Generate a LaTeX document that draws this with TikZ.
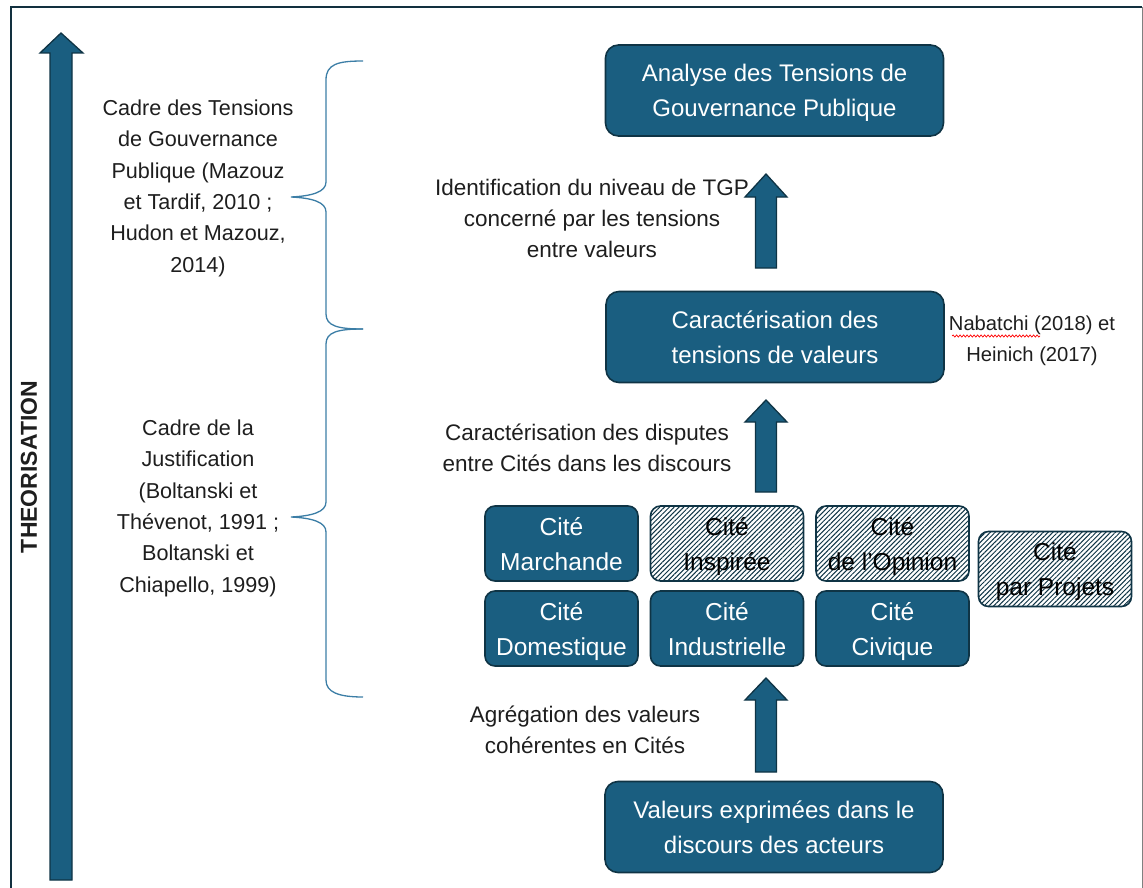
\documentclass[tikz,border=0pt]{standalone}
\usepackage{fontspec}
\setmainfont{Liberation Sans}
\usetikzlibrary{patterns.meta,decorations.pathmorphing}
\definecolor{boxfill}{HTML}{1A5E80}
\definecolor{boxline}{HTML}{0F3445}
\definecolor{bracecol}{HTML}{3C7EA6}
\definecolor{txt}{HTML}{1E1E1E}
\definecolor{frameline}{HTML}{12303F}
\tikzset{
  mainbox/.style={draw=boxline, fill=boxfill, line width=1.6pt, rounded corners=13pt,
    minimum width=338pt, minimum height=91pt, text=white, align=center,
    font=\fontsize{24}{34.5}\selectfont, inner sep=0pt, text depth=0pt},
  citebox/.style={draw=boxline, fill=boxfill, line width=1.6pt, rounded corners=10pt,
    minimum width=153pt, minimum height=75pt, text=white, align=center,
    font=\fontsize{24.5}{35}\selectfont, inner sep=0pt, text depth=0pt},
  citehatch/.style={citebox, pattern={Lines[angle=45,distance=3.4pt,line width=1pt]},
    pattern color=boxline, text=black},
  sidetext/.style={text=txt, align=center, font=\fontsize{21.6}{31.3}\selectfont, inner sep=0pt, text depth=0pt},
  midtext/.style={sidetext, font=\fontsize{22.5}{31.3}\selectfont},
  blockarrow/.style={draw=boxline, fill=boxfill, line width=1.3pt, line join=miter},
  bracestyle/.style={draw=bracecol, line width=1.3pt},
}
\newcommand\myuparrow[4]{%
  \draw[blockarrow] (#1-10.5,#4) -- (#1-10.5,#3) -- (#1-21,#3) -- (#1,#2)
    -- (#1+21,#3) -- (#1+10.5,#3) -- (#1+10.5,#4) -- cycle;}
\begin{document}
\begin{tikzpicture}[x=1pt,y=-1pt]
\useasboundingbox (0,0) rectangle (1143,888);
% frame
\draw[frameline, line width=2.6pt] (11,895) -- (11,7) -- (1142,7);
\draw[gray, line width=1pt] (1142,7) -- (1142,895);

% big theorisation arrow
\draw[blockarrow] (50,880) -- (50,53) -- (40,53) -- (61,33) -- (83,53) -- (72,53) -- (72,880) -- cycle;
\node[rotate=90, text=txt, font=\fontsize{23}{26}\selectfont\bfseries] (theo) at (29,467) {THEORISATION};

% main boxes
\node[mainbox] (analyse) at (774.5,90.5) {Analyse des Tensions de\\Gouvernance Publique};
\node[mainbox] (caract) at (775,337) {Caractérisation des\\tensions de valeurs};
\node[mainbox] (valeurs) at (774,827) {Valeurs exprimées dans le\\discours des acteurs};

% cites
\node[citebox] (marchande) at (561.5,543.5) {Cité\\Marchande};
\node[citehatch] (inspiree) at (727,543.5) {Cité\\Inspirée};
\node[citehatch] (opinion) at (892.5,543.5) {Cité\\de l’Opinion};
\node[citehatch] (projets) at (1055,569) {Cité\\par Projets};
\node[citebox] (domestique) at (561.5,628.5) {Cité\\Domestique};
\node[citebox] (industrielle) at (727,628.5) {Cité\\Industrielle};
\node[citebox] (civique) at (892.5,628.5) {Cité\\Civique};

% block arrows
\myuparrow{766}{174}{197}{268}
\myuparrow{766}{400}{422}{492}
\myuparrow{766}{678}{700}{772}

% middle texts
\node[midtext] (t1) at (592,218.5) {Identification du niveau de TGP\\concerné par les tensions\\entre valeurs};
\node[midtext] (t2) at (587,447.5) {Caractérisation des disputes\\entre Cités dans les discours};
\node[midtext] (t3) at (585,729.5) {Agrégation des valeurs\\cohérentes en Cités};
\node[sidetext, font=\fontsize{20.2}{31.3}\selectfont] (nab) at (1032,338.5) {Nabatchi (2018) et\\Heinich (2017)};
\draw[red, line width=0.7pt, decorate, decoration={snake, amplitude=1.1pt, segment length=3.5pt}] (952,336) -- (1040,336);

% left texts
\node[sidetext] (cadre1) at (198,186) {Cadre des Tensions\\de Gouvernance\\Publique (Mazouz\\et Tardif, 2010 ;\\Hudon et Mazouz,\\2014)};
\node[sidetext] (cadre2) at (198,506) {Cadre de la\\Justification\\(Boltanski et\\Thévenot, 1991 ;\\Boltanski et\\Chiapello, 1999)};

% braces
\draw[bracestyle] (363,61) .. controls (338,61) and (326,64) .. (326,80) -- (326,182)
  .. controls (326,192) and (312,196) .. (291,197) .. controls (312,198) and (326,202) .. (326,212)
  -- (326,314) .. controls (326,326) and (338,329) .. (363,329);
\draw[bracestyle] (363,329) .. controls (338,329) and (326,332) .. (326,344) -- (326,502)
  .. controls (326,512) and (312,516) .. (291,517) .. controls (312,518) and (326,522) .. (326,532)
  -- (326,680) .. controls (326,692) and (338,697) .. (363,697);
\end{tikzpicture}
\end{document}
